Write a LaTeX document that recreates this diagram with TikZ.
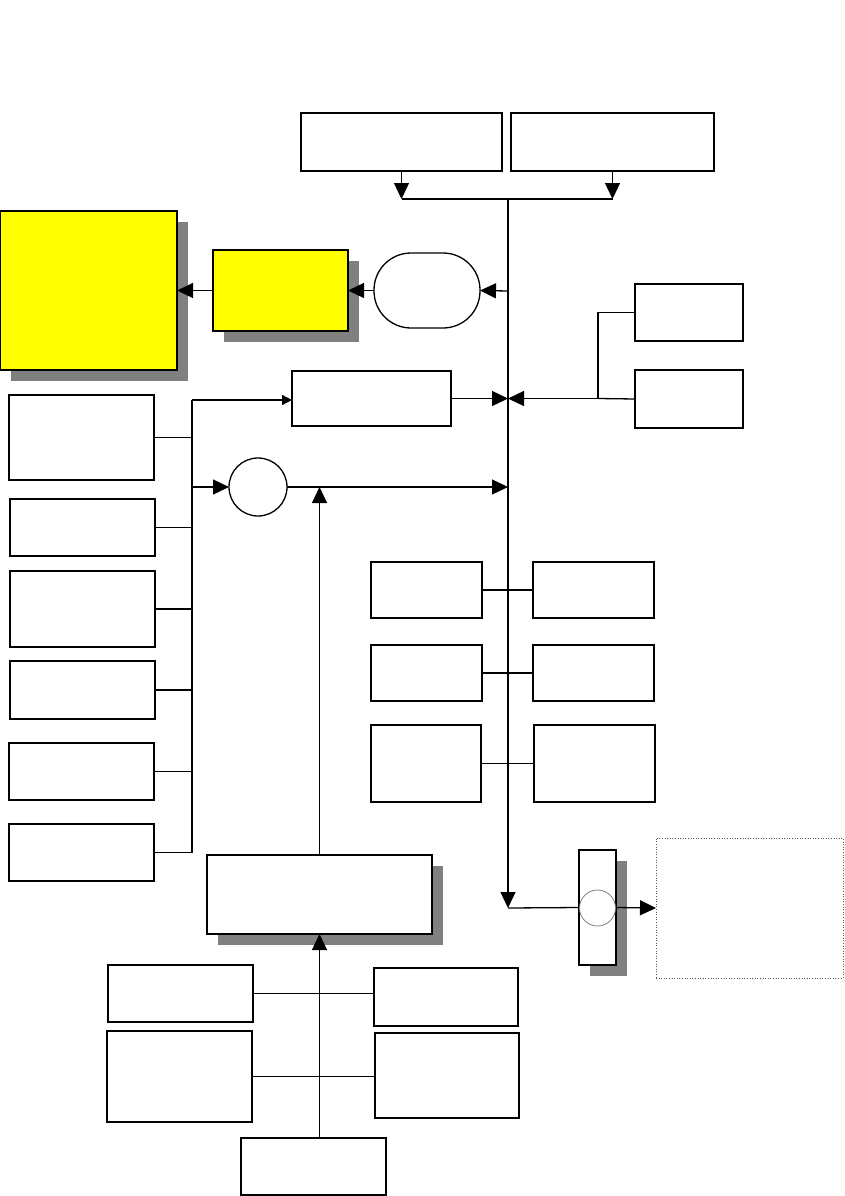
\documentclass[tikz,border=0pt]{standalone}
\usetikzlibrary{arrows.meta,shadows}
\definecolor{shd}{HTML}{808080}
\definecolor{ylw}{HTML}{FFFF00}
\newcommand{\bx}[6][]{\node[box,#1,minimum width={#4-#2},minimum height={#5-#3}] (#6) at ({(#2+#4)/2},{(#3+#5)/2}) {};}
\tikzset{
  box/.style={draw,line width=1.3pt,inner sep=0pt,outer sep=0pt,fill=white},
  ybox/.style={fill=ylw,drop shadow={shadow xshift=11pt,shadow yshift=-11pt,fill=shd,opacity=1}},
  gshadow/.style={drop shadow={shadow xshift=11pt,shadow yshift=-11pt,fill=shd,opacity=1}},
  ln/.style={line width=1.3pt},
  arr/.style={ln,-{Triangle[length=16pt,width=15pt]}},
  arrsmall/.style={ln,-{Triangle[length=10pt,width=10pt]}},
}
\begin{document}
\begin{tikzpicture}[x=1pt,y=-1pt]
\useasboundingbox (0,0) rectangle (844,1196);
% top boxes
\bx{301}{113}{502}{171}{A}
\bx{511}{113}{714}{171}{B}
% yellow boxes
\bx[ybox]{0}{211}{177}{370}{Y1}
\bx[ybox]{213}{250}{348}{331}{Y2}
% stadium
\bx[rounded corners=37pt]{374}{253}{480}{328}{S}
% middle box
\bx{292}{371}{451}{426}{C}
% right boxes
\bx{635}{284}{743}{341}{D}
\bx{635}{370}{743}{428}{E}
% left column
\bx{9}{395}{154}{480}{L1}
\bx{10}{499}{155}{556}{L2}
\bx{10}{571}{155}{647}{L3}
\bx{10}{661}{155}{719}{L4}
\bx{9}{743}{154}{800}{L5}
\bx{9}{824}{154}{881}{L6}
% circle
\node[draw,ln,circle,minimum size=58pt,inner sep=0pt,outer sep=0pt] (K) at (258,487) {};
% middle pairs
\bx{371}{562}{482}{618}{M1L}
\bx{533}{562}{654}{618}{M1R}
\bx{371}{645}{482}{701}{M2L}
\bx{533}{645}{654}{701}{M2R}
\bx{371}{725}{481}{802}{M3L}
\bx{534}{725}{655}{802}{M3R}
% bottom big box
\bx[gshadow,line width=2pt]{207}{855}{432}{934}{F}
% bottom boxes
\bx{108}{965}{253}{1022}{B1L}
\bx{374}{968}{518}{1026}{B1R}
\bx{107}{1031}{252}{1122}{B2L}
\bx{375}{1033}{519}{1118}{B2R}
\bx{241}{1138}{386}{1195}{G}
% bottom right
\bx[gshadow]{579}{850}{616}{965}{R}
\node[draw=gray,line width=0.8pt,circle,minimum size=36pt,inner sep=0pt,outer sep=0pt] (RC) at (597.5,908) {};
\node[draw=gray!70!black,line width=0.9pt,dash pattern=on 1pt off 1.6pt,inner sep=0pt,outer sep=0pt,minimum width=187pt,minimum height=140pt] (T) at (749.5,908) {};
% coordinates
\coordinate (top) at (508,199);
\coordinate (bot) at (508,908);
\coordinate (t1) at (508,291);
\coordinate (t2) at (508,398.5);
\coordinate (t3) at (508,487);
\coordinate (j1) at (598,398.5);
\coordinate (b0) at (192,400);
\coordinate (b6) at (192,853);
% connectors top
\draw[arr] (A.south) -- (A.south |- top);
\draw[arr] (B.south) -- (B.south |- top);
\draw[ln] (A.south |- top) -- (B.south |- top);
\draw[arr] (top) -- (bot);
\draw[ln] (bot) -- (R.west);
\draw[arr] (t1) -- (S.east);
\draw[arr] (S.west) -- (Y2.east);
\draw[arr] (Y2.west) -- (Y1.east |- Y2.west);
\draw[arr] (C.east) -- (t2);
\draw[ln] (D.west) -| (j1);
\draw[ln] (E.west) -- (j1);
\draw[arr] (j1) -- (t2);
% left bus
\draw[ln] (b0) -- (b6);
\draw[arrsmall] (b0) -- (C.west |- b0);
\draw[arr] (b0 |- K) -- (K.west);
\draw[arr] (K.east) -- (t3);
\draw[arr] (F.north) -- (F.north |- K);
\foreach \n in {L1,L2,L3,L4,L5,L6} \draw[ln] (\n.east) -- (\n.east -| b0);
% middle pairs
\draw[ln] (M1L.east) -- (M1R.west);
\draw[ln] (M2L.east) -- (M2R.west);
\draw[ln] (M3L.east) -- (M3R.west);
% bottom
\draw[arr] (G.north -| F.south) -- (F.south);
\draw[ln] (B1L.east) -- (B1L.east -| B1R.west);
\draw[ln] (B2L.east) -- (B2L.east -| B2R.west);
\draw[arr] (R.east) -- (T.west);
\end{tikzpicture}
\end{document}
